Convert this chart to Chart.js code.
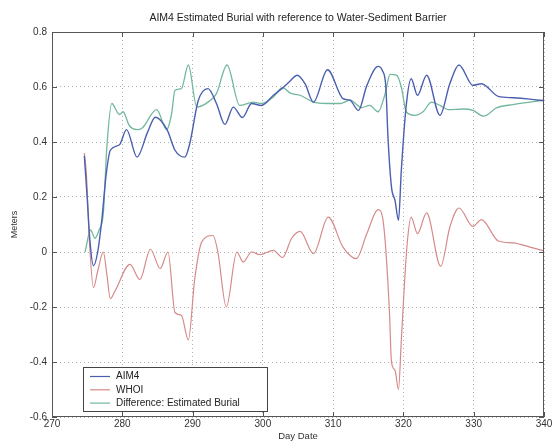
<!DOCTYPE html>
<html>
<head>
<meta charset="utf-8">
<script src="https://cdn.jsdelivr.net/npm/chart.js"></script>
<style>
  body { margin: 0; background: #fff; }
  canvas { display: block; }
</style>
</head>
<body>
<canvas id="grafico" width="555" height="443"></canvas>
<script>
/* ===========================================
   DADOS
=========================================== */
const aim4Days = [274.6, 275.0, 275.4, 275.9, 276.5, 277.1, 277.7, 278.3, 279.6, 280.6, 282.1, 283.6, 284.7, 286.4, 287.5, 288.9, 289.6, 290.8, 292.2, 293.4, 294.6, 295.8, 297.1, 298.4, 299.8, 301.5, 302.7, 303.8, 304.9, 306.0, 307.2, 309.2, 311.4, 312.4, 313.6, 314.8, 316.4, 317.0, 317.5, 317.8, 318.3, 318.8, 319.3, 319.7, 320.4, 321.1, 322.0, 323.3, 325.2, 326.6, 327.9, 329.9, 331.1, 333.5, 335.6, 338.0, 340.0];
const aim4Vals = [0.35, 0.20, 0.04, -0.05, 0.00, 0.12, 0.28, 0.37, 0.39, 0.445, 0.345, 0.436, 0.49, 0.443, 0.37, 0.345, 0.394, 0.55, 0.594, 0.54, 0.464, 0.527, 0.489, 0.54, 0.533, 0.57, 0.594, 0.62, 0.643, 0.612, 0.545, 0.663, 0.558, 0.552, 0.515, 0.606, 0.675, 0.66, 0.60, 0.418, 0.236, 0.188, 0.115, 0.297, 0.533, 0.63, 0.57, 0.643, 0.497, 0.612, 0.68, 0.606, 0.612, 0.566, 0.561, 0.556, 0.55];

const whoiDays = [274.6, 274.9, 275.3, 275.9, 276.5, 277.3, 277.8, 278.3, 279.0, 281.1, 282.5, 284.0, 285.4, 286.5, 287.5, 288.4, 289.4, 290.3, 291.3, 292.9, 293.6, 294.8, 296.3, 297.2, 298.4, 299.6, 301.5, 302.8, 304.1, 305.3, 307.2, 309.3, 311.4, 313.3, 314.8, 316.4, 317.1, 318.0, 318.3, 318.8, 319.3, 319.7, 320.5, 321.1, 322.0, 323.3, 325.3, 326.6, 327.9, 329.9, 331.1, 333.5, 335.6, 338.0, 340.0];
const whoiVals = [0.36, 0.28, 0.05, -0.13, -0.07, 0.0, -0.08, -0.17, -0.14, -0.045, -0.10, 0.01, -0.06, 0.0, -0.22, -0.23, -0.32, -0.10, 0.036, 0.06, 0.0, -0.20, 0.0, -0.036, 0.0, -0.01, 0.006, -0.02, 0.05, 0.075, -0.006, 0.127, 0.018, -0.024, 0.067, 0.154, 0.115, -0.21, -0.40, -0.43, -0.50, -0.32, 0.02, 0.127, 0.067, 0.142, -0.052, 0.09, 0.16, 0.093, 0.118, 0.04, 0.033, 0.018, 0.004];

const diffDays = [274.7, 275.5, 276.1, 276.7, 277.3, 277.8, 278.5, 279.6, 280.1, 281.0, 282.1, 282.8, 284.9, 286.3, 287.0, 287.5, 288.4, 289.4, 290.6, 292.2, 293.4, 294.9, 296.7, 298.6, 299.8, 301.5, 302.8, 303.9, 305.3, 307.2, 309.1, 311.0, 312.4, 314.1, 315.2, 316.4, 317.4, 318.1, 319.0, 319.7, 320.4, 321.6, 322.8, 324.0, 325.2, 326.4, 328.5, 329.9, 331.4, 333.3, 335.6, 338.0, 340.0];
const diffVals = [0.0, 0.08, 0.05, 0.08, 0.14, 0.38, 0.54, 0.50, 0.51, 0.46, 0.445, 0.45, 0.518, 0.445, 0.50, 0.588, 0.594, 0.68, 0.527, 0.545, 0.576, 0.68, 0.533, 0.545, 0.54, 0.564, 0.598, 0.578, 0.57, 0.545, 0.54, 0.54, 0.552, 0.525, 0.533, 0.51, 0.576, 0.646, 0.643, 0.60, 0.51, 0.497, 0.51, 0.545, 0.533, 0.518, 0.52, 0.515, 0.494, 0.525, 0.536, 0.545, 0.552];

const xTicks = [270, 280, 290, 300, 310, 320, 330, 340];
const yTicks = [-0.6, -0.4, -0.2, 0, 0.2, 0.4, 0.6, 0.8];
const yTickLabels = ["-0.6", "-0.4", "-0.2", "0", "0.2", "0.4", "0.6", "0.8"];

const tituloTexto = "AIM4 Estimated Burial with reference to Water-Sediment Barrier";
const FONTE = "'Liberation Sans', Arial, sans-serif";

function pontos(dias, vals) {
    return dias.map((d, i) => ({ x: d, y: vals[i] }));
}

/* ===========================================
   PLUGIN: moldura, ticks internos, legenda, título
=========================================== */
const extras = {
    id: "extras",
    afterDraw(chart) {
        const ctx = chart.ctx;
        const a = chart.chartArea;
        const sx = chart.scales.x;
        const sy = chart.scales.y;

        ctx.save();
        // moldura
        ctx.strokeStyle = "#555";
        ctx.lineWidth = 1;
        ctx.strokeRect(a.left + 0.5, a.top + 0.5, a.right - a.left - 1, a.bottom - a.top - 1);

        // ticks para dentro
        ctx.beginPath();
        xTicks.forEach(v => {
            const px = Math.round(sx.getPixelForValue(v)) + 0.5;
            ctx.moveTo(px, a.bottom); ctx.lineTo(px, a.bottom - 5);
            ctx.moveTo(px, a.top); ctx.lineTo(px, a.top + 5);
        });
        yTicks.forEach(v => {
            const py = Math.round(sy.getPixelForValue(v)) + 0.5;
            ctx.moveTo(a.left, py); ctx.lineTo(a.left + 5, py);
            ctx.moveTo(a.right, py); ctx.lineTo(a.right - 5, py);
        });
        ctx.stroke();

        // título
        ctx.fillStyle = "#222";
        ctx.font = "10.5px " + FONTE;
        ctx.textAlign = "center";
        ctx.textBaseline = "middle";
        ctx.fillText(tituloTexto, (a.left + a.right) / 2, 18);

        // legenda
        const lx = 83, ly = 367, lw = 184, lh = 44;
        ctx.fillStyle = "#fff";
        ctx.fillRect(lx, ly, lw, lh);
        ctx.strokeStyle = "#444";
        ctx.strokeRect(lx + 0.5, ly + 0.5, lw, lh);
        ctx.font = "10px " + FONTE;
        ctx.textAlign = "left";
        chart.data.datasets.forEach((ds, i) => {
            const y = ly + 9.5 + i * 13.3;
            ctx.strokeStyle = ds.borderColor;
            ctx.lineWidth = 1.2;
            ctx.beginPath();
            ctx.moveTo(lx + 7, y); ctx.lineTo(lx + 27, y);
            ctx.stroke();
            ctx.fillStyle = "#222";
            ctx.fillText(ds.label, lx + 33, y);
        });
        ctx.restore();
    }
};

/* ===========================================
   GRÁFICO
=========================================== */
new Chart(document.getElementById("grafico"), {
    type: "line",
    data: {
        datasets: [
            {
                label: "AIM4",
                data: pontos(aim4Days, aim4Vals),
                borderColor: "#4a5fae",
                borderWidth: 1.4,
                cubicInterpolationMode: "monotone",
                pointRadius: 0,
                fill: false
            },
            {
                label: "WHOI",
                data: pontos(whoiDays, whoiVals),
                borderColor: "#d58a8a",
                borderWidth: 1.2,
                cubicInterpolationMode: "monotone",
                pointRadius: 0,
                fill: false
            },
            {
                label: "Difference: Estimated Burial",
                data: pontos(diffDays, diffVals),
                borderColor: "#72b89c",
                borderWidth: 1.3,
                cubicInterpolationMode: "monotone",
                pointRadius: 0,
                fill: false
            }
        ]
    },
    options: {
        responsive: false,
        animation: false,
        layout: { padding: { top: 32, right: 11, left: 0, bottom: 0 } },
        plugins: {
            legend: { display: false },
            tooltip: { enabled: false },
            title: { display: false }
        },
        scales: {
            x: {
                type: "linear",
                min: 270,
                max: 340,
                afterBuildTicks: s => { s.ticks = xTicks.map(v => ({ value: v })); },
                afterFit: s => { s.height = 26; },
                ticks: {
                    color: "#333",
                    font: { family: FONTE, size: 10 },
                    padding: 1,
                    maxRotation: 0,
                    callback: v => String(v)
                },
                grid: { color: "#b0b0b0", drawTicks: false },
                border: { display: false, dash: [1, 3] },
                title: {
                    display: true,
                    text: "Day Date",
                    color: "#333",
                    font: { family: FONTE, size: 9.5 },
                    padding: { top: 0, bottom: 1 }
                }
            },
            y: {
                min: -0.6,
                max: 0.8,
                afterBuildTicks: s => { s.ticks = yTicks.map(v => ({ value: v })); },
                afterFit: s => { s.width = 52; },
                ticks: {
                    color: "#333",
                    font: { family: FONTE, size: 10 },
                    padding: 5,
                    callback: v => yTickLabels[yTicks.indexOf(Math.round(v * 10) / 10)] ?? ""
                },
                grid: { color: "#b0b0b0", drawTicks: false },
                border: { display: false, dash: [1, 3] },
                title: {
                    display: true,
                    text: "Meters",
                    color: "#333",
                    font: { family: FONTE, size: 9 },
                    padding: { top: 9, bottom: 4 }
                }
            }
        }
    },
    plugins: [extras]
});
</script>
</body>
</html>
